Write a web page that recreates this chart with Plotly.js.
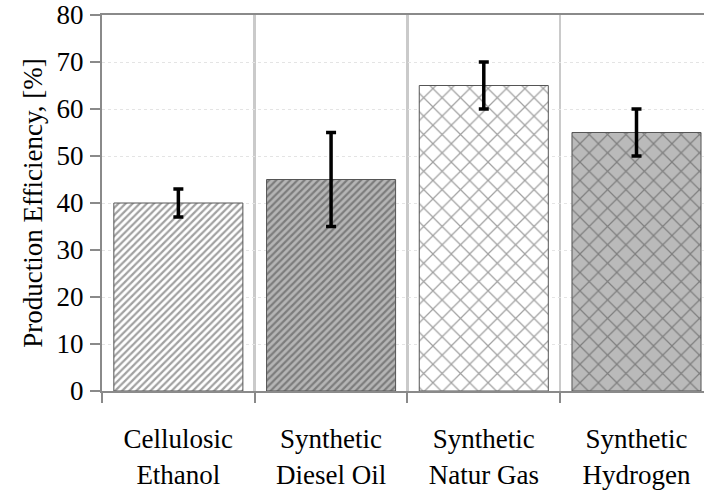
<!DOCTYPE html>
<html>
<head>
<meta charset="utf-8">
<script src="https://cdn.plot.ly/plotly-3.0.1.min.js"></script>
<style>html,body{margin:0;padding:0;background:#fff;}#chart{width:704px;height:491px;}</style>
</head>
<body>
<div id="chart"></div>
<script>
const categories = ["Cellulosic<br>Ethanol", "Synthetic<br>Diesel Oil", "Synthetic<br>Natur Gas", "Synthetic<br>Hydrogen"];
const efficiency = [40, 45, 65, 55];
const errorPlus = [3, 10, 5, 5];
const errorMinus = [3, 10, 5, 5];
const patternShapes = ["/", "/", "x", "x"];
const patternBg = ["#ffffff", "#b5b5b5", "#ffffff", "#bababa"];
const patternSizes = [5, 5, 13, 13];
const patternSolidity = [0.45, 0.45, 0.18, 0.18];
const yTicks = [0, 10, 20, 30, 40, 50, 60, 70, 80];

const SERIF = "Liberation Serif, Times New Roman, serif";

const trace = {
  type: "bar",
  x: categories,
  y: efficiency,
  width: 0.845,
  marker: {
    color: patternBg,
    line: {color: "#555555", width: 1},
    pattern: {
      shape: patternShapes,
      fgcolor: "#222222",
      size: patternSizes,
      solidity: patternSolidity,
      fillmode: "overlay"
    }
  },
  error_y: {
    type: "data",
    symmetric: false,
    array: errorPlus,
    arrayminus: errorMinus,
    color: "#000000",
    thickness: 3.5,
    width: 5
  },
  hoverinfo: "skip"
};

const layout = {
  width: 704,
  height: 491,
  margin: {l: 102, r: 0, t: 15, b: 100},
  paper_bgcolor: "#ffffff",
  plot_bgcolor: "#ffffff",
  showlegend: false,
  font: {family: SERIF, color: "#000000", size: 27},
  xaxis: {
    type: "category",
    range: [-0.5, 3.442],
    tickson: "boundaries",
    ticks: "outside",
    ticklen: 10,
    tickwidth: 2,
    tickcolor: "#8a8a8a",
    showline: true,
    linecolor: "#8a8a8a",
    linewidth: 2,
    mirror: true,
    showgrid: true,
    gridcolor: "#cacaca",
    gridwidth: 2.5,
    tickfont: {family: SERIF, size: 27, color: "#000"},
    ticklabelstandoff: 23,
    automargin: false,
    fixedrange: true
  },
  yaxis: {
    range: [0, 80],
    tickvals: yTicks,
    ticks: "outside",
    ticklen: 10,
    tickwidth: 2,
    tickcolor: "#8a8a8a",
    showline: true,
    linecolor: "#8a8a8a",
    linewidth: 2,
    showgrid: true,
    gridcolor: "#e4e4e4",
    gridwidth: 1,
    griddash: "dot",
    zeroline: false,
    tickfont: {family: SERIF, size: 27, color: "#000"},
    ticklabelstandoff: 1,
    title: {text: "Production Efficiency, [%]", font: {family: SERIF, size: 27, color: "#000"}, standoff: 6},
    automargin: false,
    fixedrange: true
  }
};

Plotly.newPlot("chart", [trace], layout, {displayModeBar: false, staticPlot: true});
</script>
</body>
</html>
